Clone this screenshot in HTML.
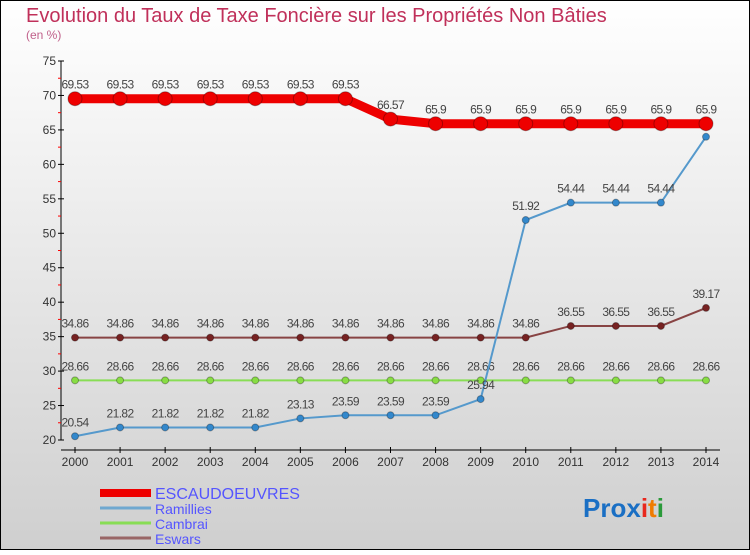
<!DOCTYPE html>
<html><head><meta charset="utf-8"><style>
body{margin:0;width:750px;height:550px;overflow:hidden;font-family:"Liberation Sans",sans-serif}
svg text{font-family:"Liberation Sans",sans-serif}
</style></head><body>
<svg width="750" height="550">
<defs><linearGradient id="bg" x1="0" y1="0" x2="0" y2="1"><stop offset="0" stop-color="#ffffff"/><stop offset="1" stop-color="#cfcfcf"/></linearGradient></defs>
<rect x="0.5" y="0.5" width="749" height="549" fill="url(#bg)" stroke="#000"/>
<text x="26" y="22" font-size="20" fill="#c0305a">Evolution du Taux de Taxe Foncière sur les Propriétés Non Bâties</text>
<text x="26" y="39" font-size="12" fill="#c0608a">(en %)</text>
<g id="axes"></g><g id="series"></g><g id="legend"></g>
<text x="583" y="517" font-size="26" font-weight="bold"><tspan fill="#1a6fc4">Pro</tspan><tspan fill="#1a6fc4">x</tspan><tspan fill="#e8281e">i</tspan><tspan fill="#f07c00">t</tspan><tspan fill="#2a9a3a">i</tspan></text>
</svg>
<script>
const years=[2000,2001,2002,2003,2004,2005,2006,2007,2008,2009,2010,2011,2012,2013,2014];
const escaudoeuvres=[69.53,69.53,69.53,69.53,69.53,69.53,69.53,66.57,65.9,65.9,65.9,65.9,65.9,65.9,65.9];
const escLabels=["69.53","69.53","69.53","69.53","69.53","69.53","69.53","66.57","65.9","65.9","65.9","65.9","65.9","65.9","65.9"];
const ramillies=[20.54,21.82,21.82,21.82,21.82,23.13,23.59,23.59,23.59,25.94,51.92,54.44,54.44,54.44,64];
const cambrai=[28.66,28.66,28.66,28.66,28.66,28.66,28.66,28.66,28.66,28.66,28.66,28.66,28.66,28.66,28.66];
const eswars=[34.86,34.86,34.86,34.86,34.86,34.86,34.86,34.86,34.86,34.86,34.86,36.55,36.55,36.55,39.17];
const yTicks=[20,25,30,35,40,45,50,55,60,65,70,75];
const NS="http://www.w3.org/2000/svg";
const x=i=>75+i*(706-75)/(years.length-1);
const y=v=>440-(v-20)*(440-61)/55;
function mk(p,t,a){const e=document.createElementNS(NS,t);for(const k in a)e.setAttribute(k,a[k]);p.appendChild(e);return e;}
const ax=document.getElementById('axes');
const yl=mk(ax,'line',{x1:61,y1:61,x2:61,y2:440,stroke:'#000'});


const xl=mk(ax,'line',{x1:61,y1:450,x2:720,y2:450,stroke:'#000'});


yTicks.forEach(v=>{mk(ax,'line',{x1:58,y1:y(v),x2:64,y2:y(v),stroke:'#000'});
 if(v<75)mk(ax,'line',{x1:58,y1:y(v+2.5),x2:61,y2:y(v+2.5),stroke:'#f00'});
 const t=mk(ax,'text',{x:56,y:y(v)+4,'font-size':12,fill:'#333','text-anchor':'end'});t.textContent=v;
 
 });
years.forEach((yr,i)=>{mk(ax,'line',{x1:x(i),y1:447,x2:x(i),y2:453,stroke:'#000'});
 const t=mk(ax,'text',{x:x(i),y:466,'font-size':12,fill:'#333','text-anchor':'middle'});t.textContent=yr;
 
 });
const sg=document.getElementById('series');
function series(name,vals,labels,color,w,r,dot,showLast){
 const g=mk(sg,'g',{});
 
 
 mk(g,'polyline',{points:vals.map((v,i)=>x(i)+','+y(v)).join(' '),fill:'none',stroke:color,'stroke-width':w});
 vals.forEach((v,i)=>{const c=mk(g,'circle',{cx:x(i),cy:y(v),r:r,fill:dot,stroke:'rgba(0,0,0,0.3)'});
  
  
  if(i<vals.length-1||showLast){const t=mk(g,'text',{x:x(i),y:y(v)-10,'font-size':12,fill:'#444','text-anchor':'middle','letter-spacing':'-0.6'});t.textContent=labels?labels[i]:String(v);
  
  }});
}
series('cambrai',cambrai,null,'#88dd55',2,3.5,'#88dd44',true);
series('eswars',eswars,null,'#884444',2,3.5,'#772222',true);
series('ramillies',ramillies,null,'#5599cc',2,3.5,'#3388cc',false);
series('escaudoeuvres',escaudoeuvres,escLabels,'#ee0000',9,7,'#ee0000',true);
const lg=document.getElementById('legend');
[['ESCAUDOEUVRES','#ee0000',8,16],['Ramillies','#6fa8d0',3,14],['Cambrai','#88dd55',3,14],['Eswars','#996666',3,14]].forEach((d,i)=>{
 const yy=493+i*15;
 const l=mk(lg,'line',{x1:100,y1:yy,x2:151,y2:yy,stroke:d[1],'stroke-width':d[2]});
 
 
 const t=mk(lg,'text',{x:155,y:yy+6,'font-size':d[3],fill:'#5555ff'});t.textContent=d[0];
 
 
});
</script>
</body></html>
